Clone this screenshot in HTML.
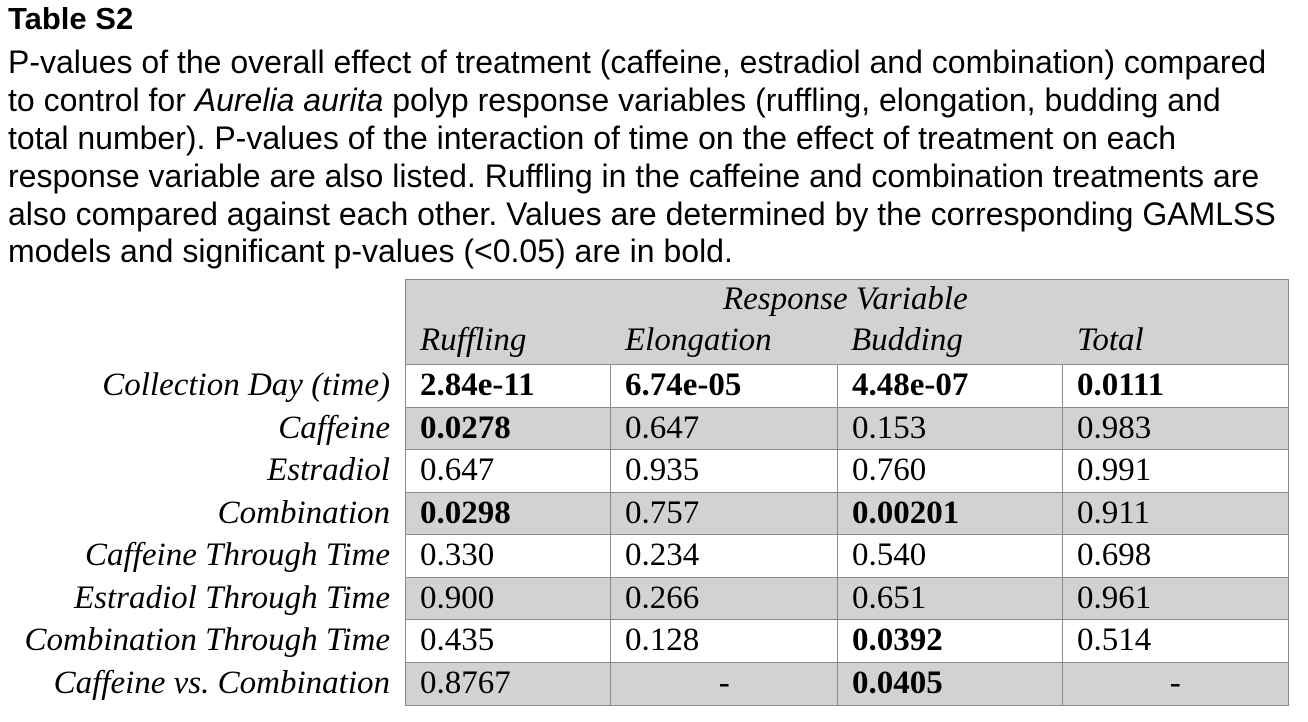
<!DOCTYPE html>
<html><head><meta charset="utf-8">
<style>
body{margin:0;width:1308px;height:722px;background:#fff;position:relative;overflow:hidden;font-family:"Liberation Sans",Arial,sans-serif;color:#000}
.t{position:absolute;left:8px;white-space:nowrap;font-size:32px;line-height:38px}
.lbl{position:absolute;right:918px;font-family:"Liberation Serif",serif;font-style:italic;font-size:33px;white-space:nowrap;line-height:42px}
.cell{position:absolute;box-sizing:border-box;border:1.5px solid #8a8a8a;font-family:"Liberation Serif",serif;font-size:33px;line-height:40px;padding-left:14px;white-space:nowrap}
.g{background:#d2d2d2}.w{background:#fff}.b{font-weight:bold}.c{text-align:center;padding-left:0}
.hd{position:absolute;font-family:"Liberation Serif",serif;font-style:italic;font-size:33px;white-space:nowrap}
</style></head><body>
<div class="t" style="top:0px;font-weight:bold;font-size:31px">Table S2</div>
<div class="t" style="top:43px">P-values of the overall effect of treatment (caffeine, estradiol and combination) compared</div>
<div class="t" style="top:81px">to control for <i>Aurelia aurita</i> polyp response variables (ruffling, elongation, budding and</div>
<div class="t" style="top:119px">total number). P-values of the interaction of time on the effect of treatment on each</div>
<div class="t" style="top:157px">response variable are also listed. Ruffling in the caffeine and combination treatments are</div>
<div class="t" style="top:195px">also compared against each other. Values are determined by the corresponding GAMLSS</div>
<div class="t" style="top:232px">models and significant p-values (&lt;0.05) are in bold.</div>

<div style="position:absolute;left:405px;top:279px;width:883.5px;height:86px;box-sizing:border-box;border:1.5px solid #8a8a8a;background:#d2d2d2"></div>
<div class="hd" style="left:723px;top:281px">Response Variable</div>
<div class="hd" style="left:420px;top:322px">Ruffling</div>
<div class="hd" style="left:625px;top:322px">Elongation</div>
<div class="hd" style="left:851px;top:322px">Budding</div>
<div class="hd" style="left:1077px;top:322px">Total</div>
<div id="rows"></div>
<script>
const rowLabels=["Collection Day (time)","Caffeine","Estradiol","Combination","Caffeine Through Time","Estradiol Through Time","Combination Through Time","Caffeine vs. Combination"];
const ruffling=["2.84e-11","0.0278","0.647","0.0298","0.330","0.900","0.435","0.8767"];
const elongation=["6.74e-05","0.647","0.935","0.757","0.234","0.266","0.128","-"];
const budding=["4.48e-07","0.153","0.760","0.00201","0.540","0.651","0.0392","0.0405"];
const total=["0.0111","0.983","0.991","0.911","0.698","0.961","0.514","-"];
const cols=[ruffling,elongation,budding,total];
const colNames=["ruffling","elongation","budding","total"];
const colX=[405,610,837,1062,1287];
const top0=364,rh=42.5;
const root=document.getElementById('rows');
rowLabels.forEach((lab,i)=>{
  const y=top0+i*rh;
  const l=document.createElement('div');
  l.className='lbl';l.style.top=(y)+'px';l.textContent=lab;
  
  
  root.appendChild(l);
  cols.forEach((c,j)=>{
    const v=c[i];const d=document.createElement('div');
    const num=parseFloat(v);
    let cls='cell '+(i%2?'g':'w');
    if(i===0||(!isNaN(num)&&num<0.05))cls+=' b';
    if(v==='-')cls+=' c';
    d.className=cls;
    d.style.left=colX[j]+'px';d.style.top=y+'px';
    d.style.width=(colX[j+1]-colX[j]+1.5)+'px';d.style.height=(rh+1.5)+'px';
    d.textContent=v;
    
    
    root.appendChild(d);
  });
});
</script>
</body></html>
